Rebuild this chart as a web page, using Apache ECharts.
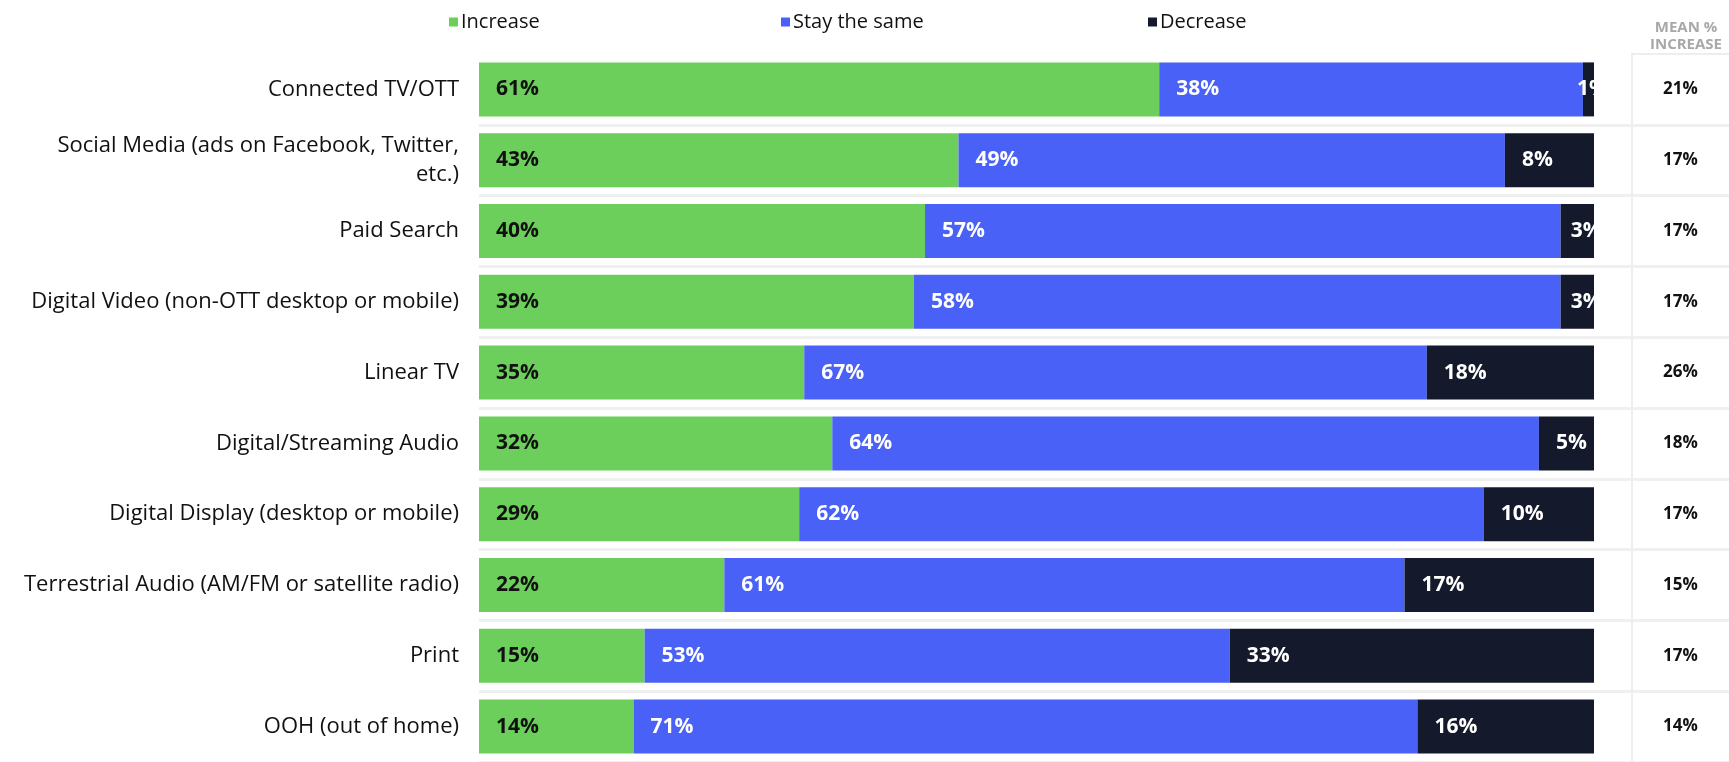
<!DOCTYPE html>
<html>
<head>
<meta charset="utf-8">
<script src="https://cdn.jsdelivr.net/npm/echarts@6/dist/echarts.min.js"></script>
<style>
  html, body { margin: 0; padding: 0; background: #fff; }
  #chart { width: 1729px; height: 762px; }
</style>
</head>
<body>
<div id="chart"></div>
<script>
const categories = [
  'Connected TV/OTT',
  'Social Media (ads on Facebook, Twitter, etc.)',
  'Paid Search',
  'Digital Video (non-OTT desktop or mobile)',
  'Linear TV',
  'Digital/Streaming Audio',
  'Digital Display (desktop or mobile)',
  'Terrestrial Audio (AM/FM or satellite radio)',
  'Print',
  'OOH (out of home)'
]
const increase = [61, 43, 40, 39, 35, 32, 29, 22, 15, 14]
const stayTheSame = [38, 49, 57, 58, 67, 64, 62, 61, 53, 71]
const decrease = [1, 8, 3, 3, 18, 5, 10, 17, 33, 16]
const meanIncrease = [21, 17, 17, 17, 26, 18, 17, 15, 17, 14]

const GREEN = '#6dcf5b'
const BLUE = '#4961f6'
const DARK = '#141a2b'
const FONT = '"Open Sans"'
const GRID_LEFT = 479
const MEAN_LEFT = 1632
const BAR_W = 54

// each bar is scaled to its own total, labels keep the raw percent
function shares(values) {
  return values.map((v, i) => {
    const item = { value: v / (increase[i] + stayTheSame[i] + decrease[i]), pct: v }
    if (v < 5) item.label = { distance: v < 2 ? -6 : 10 }
    return item
  })
}

const chart = echarts.init(document.getElementById('chart'), null, { renderer: 'canvas' })

const barLabel = (color) => ({
  show: true,
  position: 'insideLeft',
  distance: 17,
  formatter: p => p.data.pct + '%',
  color: color,
  fontFamily: FONT,
  fontSize: 21,
  fontWeight: 'bold'
})

const legendBase = {
  top: 7,
  icon: 'rect',
  itemWidth: 9,
  itemHeight: 9,
  itemGap: 4,
  selectedMode: false,
  textStyle: { fontFamily: FONT, fontSize: 20, color: '#111', padding: [0, 0, 0, -2] }
}

chart.setOption({
  animation: false,
  backgroundColor: '#fff',
  legend: [
    Object.assign({ left: 444, data: ['Increase'] }, legendBase),
    Object.assign({ left: 776, data: ['Stay the same'] }, legendBase),
    Object.assign({ left: 1143, data: ['Decrease'] }, legendBase)
  ],
  grid: [
    { left: GRID_LEFT, right: 1729 - MEAN_LEFT, top: 54, bottom: -3 },
    { left: MEAN_LEFT, right: 0, top: 54, bottom: -3 }
  ],
  xAxis: [
    { type: 'value', gridIndex: 0, min: 0, max: 1.034, show: false },
    {
      type: 'value', gridIndex: 1, min: 0, max: 1, position: 'top',
      axisLine: { show: true, lineStyle: { color: '#eeeeee', width: 2 } },
      axisTick: { show: false }, axisLabel: { show: false }, splitLine: { show: false }
    }
  ],
  yAxis: [
    {
      type: 'category', gridIndex: 0, data: categories, inverse: true,
      axisLine: { show: false }, axisTick: { show: false },
      axisLabel: {
        margin: 20,
        fontFamily: FONT,
        fontSize: 22,
        color: '#111',
        align: 'right',
        lineHeight: 29,
        formatter: v => v.replace('Twitter, ', 'Twitter,\n')
      },
      splitLine: { show: true, showMinLine: false, lineStyle: { color: '#f0f0f0', width: 3 } }
    },
    {
      type: 'category', gridIndex: 1, data: categories, inverse: true,
      axisLine: { show: true, lineStyle: { color: '#eeeeee', width: 2 } },
      axisTick: { show: false }, axisLabel: { show: false },
      splitLine: { show: true, showMinLine: false, lineStyle: { color: '#f0f0f0', width: 3 } }
    }
  ],
  graphic: [
    {
      id: 'header',
      type: 'text',
      x: 1686,
      y: 19,
      style: {
        text: 'MEAN %\nINCREASE',
        align: 'center',
        fill: '#a8a8a8',
        font: 'bold 15px ' + FONT,
        lineHeight: 17
      }
    }
  ],
  series: [
    {
      name: 'Increase', type: 'bar', stack: 'total', barWidth: BAR_W,
      data: shares(increase), itemStyle: { color: GREEN }, label: barLabel('#111')
    },
    {
      name: 'Stay the same', type: 'bar', stack: 'total', barWidth: BAR_W,
      data: shares(stayTheSame), itemStyle: { color: BLUE }, label: barLabel('#fff')
    },
    {
      name: 'Decrease', type: 'bar', stack: 'total', barWidth: BAR_W,
      data: shares(decrease), itemStyle: { color: DARK }, label: barLabel('#fff')
    },
    {
      name: 'Mean % increase', type: 'bar', xAxisIndex: 1, yAxisIndex: 1, barWidth: BAR_W,
      silent: true,
      data: meanIncrease.map(m => ({ value: 1, pct: m })),
      itemStyle: { color: 'rgba(0,0,0,0)' },
      label: {
        show: true, position: 'inside',
        formatter: p => p.data.pct + '%',
        color: '#111', fontFamily: FONT, fontSize: 17, fontWeight: 'bold'
      }
    }
  ]
})

// clip labels that run past the end of their bar
const barEnd = chart.convertToPixel({ xAxisIndex: 0 }, 1)
const masks = categories.map((c, i) => {
  const y = chart.convertToPixel({ yAxisIndex: 0 }, c)
  return {
    id: 'mask' + i, type: 'rect', z: 100, silent: true,
    shape: { x: barEnd, y: y - BAR_W / 2 - 1, width: MEAN_LEFT - barEnd - 2, height: BAR_W + 2 },
    style: { fill: '#fff' }
  }
})
chart.setOption({ graphic: masks })
</script>
</body>
</html>
